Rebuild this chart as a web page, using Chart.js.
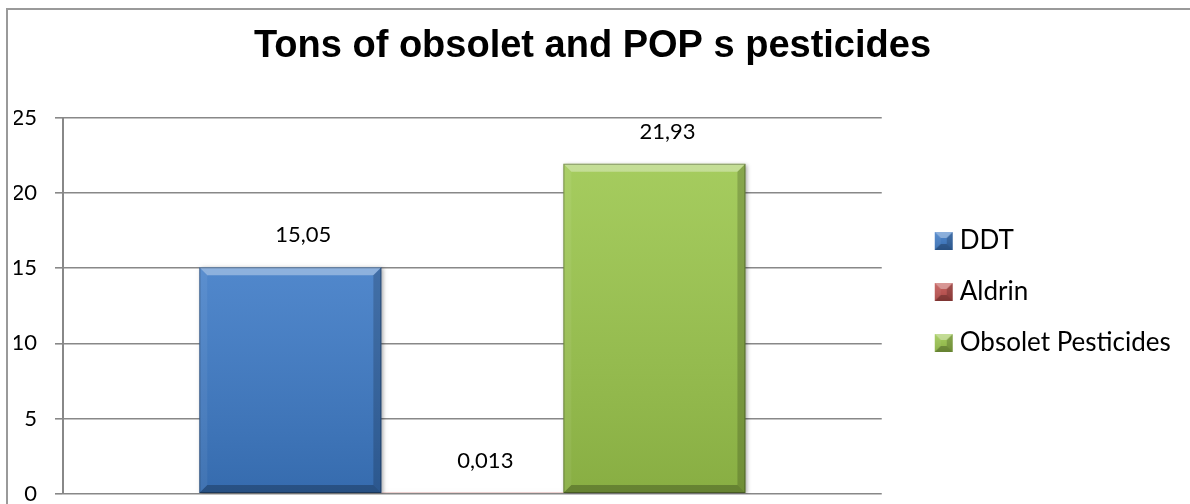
<!DOCTYPE html>
<html>
<head>
<meta charset="utf-8">
<script src="https://cdn.jsdelivr.net/npm/chart.js@4.4.1/dist/chart.umd.min.js"></script>
<style>
  html, body { margin: 0; padding: 0; background: #fff; overflow: hidden; }
  #wrap { position: relative; width: 1190px; height: 525px; }
  #frame { position: absolute; left: 6px; top: 8px; right: -20px; bottom: -20px;
           border-left: 2px solid #9a9a9a; border-top: 2px solid #9a9a9a; pointer-events: none; }
</style>
</head>
<body>
<div id="wrap">
  <canvas id="chart"></canvas>
  <div id="frame"></div>
</div>
<script>
// data
const categories = [''];
const seriesNames = ['DDT', 'Aldrin', 'Obsolet Pesticides'];
const ddtTons = [15.05];
const aldrinTons = [0.013];
const obsoletTons = [21.93];
const yTicks = [0, 5, 10, 15, 20, 25];

// base / light / dark per series
const palette = [
  ['#3d7ac6', '#5c9ae6', '#2b5690'],
  ['#c0504d', '#d9716e', '#8c3331'],
  ['#9bc64c', '#b9df6c', '#6f9230']
];

function poly(c, pts, fill) {
  c.beginPath();
  c.moveTo(pts[0][0], pts[0][1]);
  pts.slice(1).forEach(p => c.lineTo(p[0], p[1]));
  c.closePath();
  c.fillStyle = fill;
  c.fill();
}

function bevelRect(c, l, t, w, h, s) {
  const r = l + w, b = t + h;
  const g = c.createLinearGradient(0, t, 0, b);
  g.addColorStop(0, 'rgba(255,255,255,0.10)');
  g.addColorStop(1, 'rgba(0,0,0,0.12)');
  c.fillStyle = g;
  c.fillRect(l, t, w, h);
  poly(c, [[l, t], [r, t], [r - s, t + s], [l + s, t + s]], 'rgba(255,255,255,0.35)');
  poly(c, [[l, b], [r, b], [r - s, b - s], [l + s, b - s]], 'rgba(0,0,0,0.25)');
  poly(c, [[l, t], [l + s, t + s], [l + s, b - s], [l, b]], 'rgba(255,255,255,0.06)');
  poly(c, [[r, t], [r - s, t + s], [r - s, b - s], [r, b]], 'rgba(0,0,0,0.18)');
}

// legend icons, icon sits at the right part of a wider transparent canvas
function legendIcon(cols) {
  const cv = document.createElement('canvas');
  cv.width = 60; cv.height = 18;
  const c = cv.getContext('2d');
  c.fillStyle = cols[0];
  c.fillRect(38, 0, 18, 18);
  bevelRect(c, 38, 0, 18, 18, 6);
  return cv;
}
const icons = palette.map(legendIcon);

const bevel = {
  id: 'bevel',
  beforeDatasetDraw(chart) {
    const c = chart.ctx;
    c.save();
    c.shadowColor = 'rgba(0,0,0,0.35)';
    c.shadowBlur = 4;
    c.shadowOffsetX = 2;
    c.shadowOffsetY = 1;
  },
  afterDatasetDraw(chart, args) {
    const c = chart.ctx;
    c.restore();
    args.meta.data.forEach(bar => {
      const {x, y, base, width} = bar.getProps(['x', 'y', 'base', 'width'], true);
      const t = Math.min(y, base), h = Math.abs(base - y);
      if (h < 4) return;
      bevelRect(c, x - width / 2, t, width, h, Math.min(8, h / 2));
      c.strokeStyle = 'rgba(0,0,0,0.3)';
      c.lineWidth = 1;
      c.strokeRect(x - width / 2 + 0.5, t + 0.5, width - 1, h - 1);
    });
  }
};

const valueLabels = {
  id: 'valueLabels',
  afterDatasetsDraw(chart) {
    const c = chart.ctx;
    c.save();
    c.font = '22px Lato';
    c.fillStyle = '#000';
    c.textAlign = 'center';
    c.textBaseline = 'middle';
    chart.data.datasets.forEach((ds, i) => {
      chart.getDatasetMeta(i).data.forEach((bar, j) => {
        c.fillText(String(ds.data[j]).replace('.', ','), bar.x + 13, bar.y - 32);
      });
    });
    c.restore();
  }
};

const seriesData = [ddtTons, aldrinTons, obsoletTons];

new Chart(document.getElementById('chart'), {
  type: 'bar',
  data: {
    labels: categories,
    datasets: seriesNames.map((name, i) => ({
      label: name,
      data: seriesData[i],
      backgroundColor: palette[i][0],
      borderWidth: 0,
      minBarLength: i === 1 ? 1 : 0
    }))
  },
  options: {
    responsive: true,
    maintainAspectRatio: false,
    animation: false,
    layout: { padding: { left: 14, right: 19, top: 0, bottom: 0 } },
    datasets: { bar: { categoryPercentage: 0.667, barPercentage: 1 } },
    scales: {
      x: { type: 'category', display: false },
      y: {
        min: 0, max: 25,
        afterBuildTicks: s => { s.ticks = yTicks.map(v => ({ value: v })); },
        afterFit: s => { s.width = 49; },
        ticks: { padding: 18, color: '#000', font: { family: 'Lato', size: 22 } },
        grid: { color: '#888888', lineWidth: 1.6, tickLength: 8 },
        border: { color: '#888888', width: 2 }
      }
    },
    plugins: {
      title: {
        display: true,
        text: 'Tons of obsolet and POP s pesticides',
        color: '#000',
        font: { family: 'Liberation Sans', size: 38, weight: 'bold', lineHeight: 1.2 },
        padding: { top: 24, bottom: 48 }
      },
      legend: {
        position: 'right',
        title: { display: true, text: '', font: { size: 1, lineHeight: 1 }, padding: { top: 58, bottom: 0 } },
        labels: {
          usePointStyle: true,
          pointStyleWidth: 40,
          padding: 25,
          color: '#000',
          font: { family: 'Lato', size: 26 },
          generateLabels: chart => chart.data.datasets.map((ds, i) => ({
            text: ds.label,
            pointStyle: icons[i],
            fillStyle: palette[i][0],
            strokeStyle: 'transparent',
            lineWidth: 0,
            fontColor: '#000',
            hidden: !chart.isDatasetVisible(i),
            datasetIndex: i
          }))
        }
      },
      tooltip: { enabled: false }
    }
  },
  plugins: [bevel, valueLabels]
});
</script>
</body>
</html>
